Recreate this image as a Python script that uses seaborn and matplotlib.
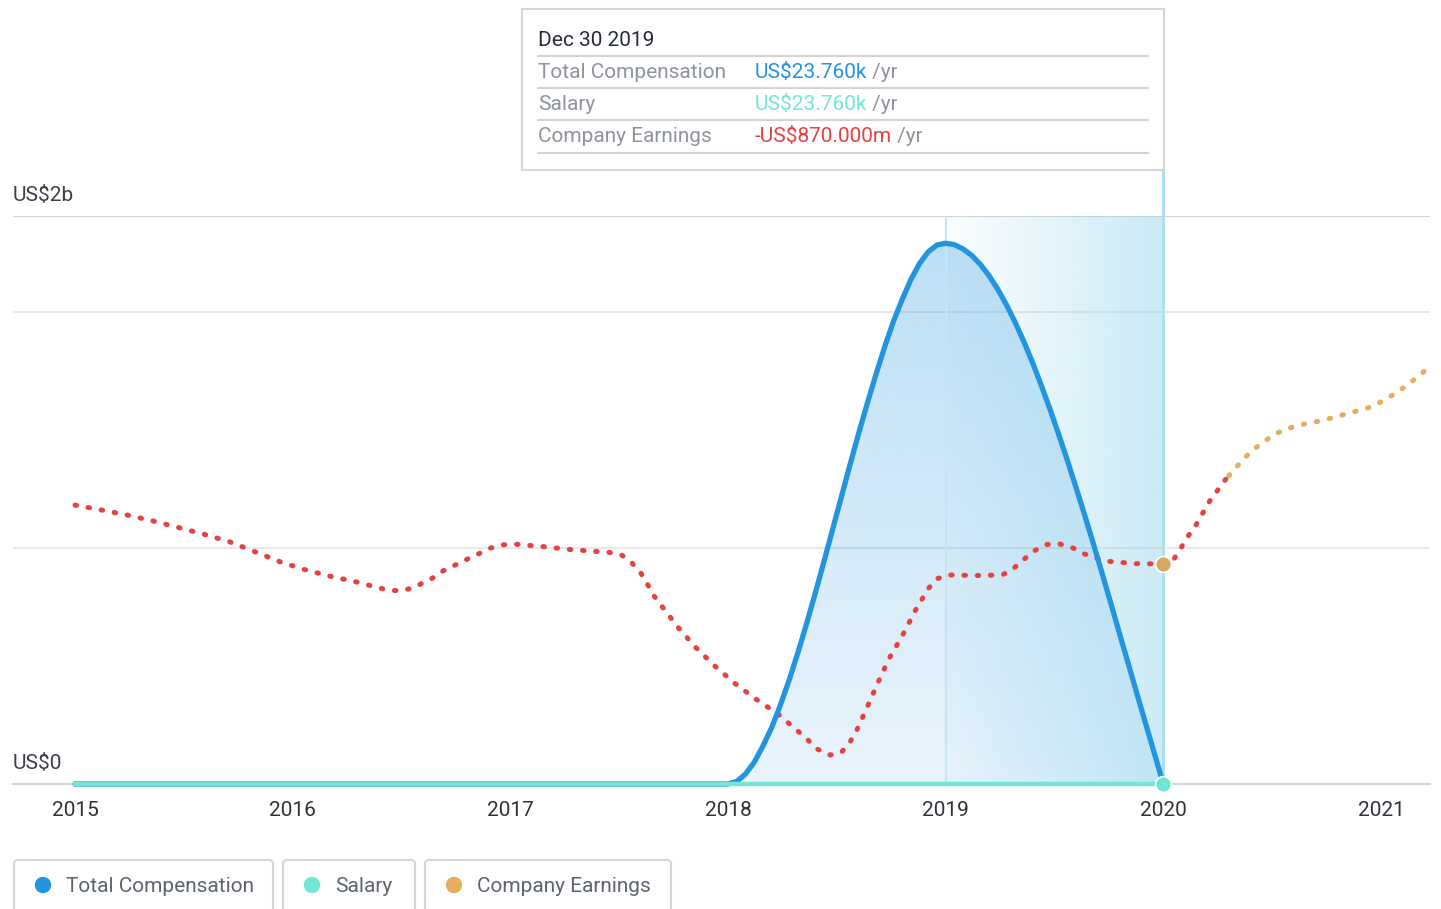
import numpy as np
import seaborn as sns
import matplotlib.pyplot as plt
from matplotlib.colors import to_rgb
from matplotlib.patches import Rectangle, FancyBboxPatch, Circle

# values as drawn on the chart scale (US$ b)
comp_years = [2015.0, 2018.0, 2018.04, 2018.08, 2018.12, 2018.16, 2018.20, 2018.24, 2018.28,
              2018.32, 2018.36, 2018.40, 2018.44, 2018.48, 2018.52, 2018.56, 2018.60, 2018.64,
              2018.68, 2018.72, 2018.76, 2018.80, 2018.84, 2018.88, 2018.92, 2018.96, 2019.0,
              2019.04, 2019.08, 2019.12, 2019.16, 2019.20, 2019.24, 2019.28, 2019.32, 2019.36,
              2019.40, 2019.44, 2019.48, 2019.52, 2019.56, 2019.60, 2019.64, 2019.68, 2019.72,
              2019.76, 2019.80, 2019.84, 2019.88, 2019.92, 2019.96, 2020.0]
comp_vals = [0, 0, 0.009, 0.035, 0.076, 0.133, 0.198, 0.277, 0.364,
             0.460, 0.562, 0.670, 0.781, 0.895, 1.009, 1.123, 1.234, 1.341,
             1.443, 1.540, 1.629, 1.706, 1.776, 1.833, 1.874, 1.898, 1.904,
             1.899, 1.884, 1.861, 1.829, 1.789, 1.741, 1.686, 1.624, 1.556,
             1.482, 1.402, 1.318, 1.229, 1.137, 1.041, 0.943, 0.842, 0.738,
             0.633, 0.526, 0.420, 0.314, 0.209, 0.104, 0]

salary_years = [2015.0, 2016.0, 2017.0, 2018.0, 2019.0, 2020.0]
salary_vals = [0, 0, 0, 0, 0, 0]

earn_years = [2015.0, 2015.12, 2015.24, 2015.36, 2015.47, 2015.59, 2015.71, 2015.82, 2015.94,
              2016.05, 2016.17, 2016.29, 2016.41, 2016.47, 2016.53, 2016.58, 2016.64, 2016.69,
              2016.80, 2016.91, 2016.965, 2017.03, 2017.15, 2017.27, 2017.39, 2017.45, 2017.51,
              2017.56, 2017.60, 2017.63, 2017.66, 2017.70, 2017.77, 2017.85, 2017.94, 2018.03,
              2018.13, 2018.23, 2018.32, 2018.37, 2018.41, 2018.47, 2018.52, 2018.56, 2018.59,
              2018.64, 2018.69, 2018.74, 2018.80, 2018.86, 2018.92, 2018.96, 2019.02, 2019.14,
              2019.26, 2019.31, 2019.40, 2019.46, 2019.52, 2019.58, 2019.63, 2019.70, 2019.75,
              2019.87, 2020.0, 2020.05, 2020.08, 2020.11, 2020.15, 2020.21, 2020.28, 2020.30]
earn_vals = [0.982, 0.965, 0.947, 0.926, 0.904, 0.880, 0.853, 0.820, 0.783,
             0.756, 0.732, 0.712, 0.688, 0.681, 0.686, 0.701, 0.724, 0.750,
             0.791, 0.831, 0.842, 0.844, 0.836, 0.826, 0.819, 0.816, 0.807,
             0.777, 0.742, 0.703, 0.662, 0.622, 0.552, 0.482, 0.415, 0.355,
             0.298, 0.246, 0.187, 0.153, 0.123, 0.102, 0.111, 0.147, 0.187,
             0.272, 0.359, 0.442, 0.521, 0.610, 0.688, 0.723, 0.736, 0.734,
             0.736, 0.758, 0.818, 0.843, 0.846, 0.833, 0.812, 0.793, 0.784,
             0.776, 0.775, 0.794, 0.830, 0.869, 0.912, 0.993, 1.067, 1.085]

fcst_years = [2020.30, 2020.36, 2020.40, 2020.45, 2020.50, 2020.55, 2020.61, 2020.67, 2020.73,
              2020.84, 2020.96, 2021.01, 2021.06, 2021.11, 2021.16, 2021.225]
fcst_vals = [1.085, 1.137, 1.169, 1.199, 1.226, 1.246, 1.261, 1.271, 1.280,
             1.303, 1.329, 1.350, 1.373, 1.399, 1.428, 1.47]

grid_vals = [0.831, 1.662, 2.0]
year_ticks = [2015, 2016, 2017, 2018, 2019, 2020, 2021]
highlight = [2019.0, 2020.0]

tip_date = "Dec 30 2019"
tip_labels = ["Total Compensation", "Salary", "Company Earnings"]
tip_values = ["US$23.760k", "US$23.760k", "-US$870.000m"]
legend_labels = ["Total Compensation", "Salary", "Company Earnings"]

BLUE = "#2394df"
CYAN = "#72e6d6"
RED = "#e64141"
ORANGE = "#e6ad60"
BAND = "#8fd3ec"

sns.set_theme(style="white")
plt.rcParams['font.family'] = ['Roboto', 'DejaVu Sans']

W, H = 1441, 909
fig = plt.figure(figsize=(W / 100, H / 100), dpi=100)
ax = fig.add_axes([13 / W, 1 - 784 / H, (1430 - 13) / W, (784 - 216) / H])

# grid
for v in grid_vals:
    ax.axhline(v, color="#d4d4d4" if v == 2.0 else "#e8e8e8", lw=1.5, zorder=0.5)

# compensation area with vertical gradient
poly = ax.fill_between(comp_years, comp_vals, 0, facecolor="none", edgecolor="none")
grad = np.zeros((256, 1, 4))
grad[..., :3] = to_rgb(BLUE)
grad[..., 3] = np.linspace(0.1, 0.3, 256)[:, None]
im = ax.imshow(grad, extent=[2018, 2020, 0, max(comp_vals)], origin="lower",
               aspect="auto", zorder=1, interpolation="bilinear")
im.set_clip_path(poly.get_paths()[0], transform=ax.transData)

# highlighted year band with horizontal gradient
band = np.zeros((1, 256, 4))
band[..., :3] = to_rgb(BAND)
band[..., 3] = np.linspace(0.04, 0.46, 256)[None, :]
ax.imshow(band, extent=[highlight[0], highlight[1], 0, 2], origin="lower",
          aspect="auto", zorder=2, interpolation="bilinear")
ax.plot([highlight[0]] * 2, [0, 2], color="#c4e6f2", lw=1.5, zorder=2)
ax.plot([highlight[1]] * 2, [0, 2.162], color="#a9def0", lw=2, zorder=2, clip_on=False)

# earnings (actual + forecast), dotted
dots = dict(lw=3.6, linestyle=(0, (0.3, 2.35)), dash_capstyle="round")
sns.lineplot(x=earn_years, y=earn_vals, color=RED, ax=ax, zorder=3, **dots)
sns.lineplot(x=fcst_years, y=fcst_vals, color=ORANGE, ax=ax, zorder=3, **dots)

# compensation and salary lines
sns.lineplot(x=comp_years, y=comp_vals, color=BLUE, lw=3.8, ax=ax, zorder=4, clip_on=False)
sns.lineplot(x=salary_years, y=salary_vals, color=CYAN, lw=3.2, ax=ax, zorder=5, clip_on=False)

i20 = earn_years.index(2020.0)
sns.scatterplot(x=[earn_years[i20]], y=[earn_vals[i20]], color="#d8a862", s=130,
                edgecolor="white", linewidth=1.2, ax=ax, zorder=6)
sns.scatterplot(x=[salary_years[-1]], y=[salary_vals[-1]], color=CYAN, s=130,
                edgecolor="white", linewidth=1.2, ax=ax, zorder=6, clip_on=False)

ax.set_xlim(2014.715, 2021.225)
ax.set_ylim(0, 2)
ax.set_xticks(year_ticks)
ax.set_xticklabels([str(y) for y in year_ticks])
ax.set_yticks([])
ax.set_xlabel("")
ax.set_ylabel("")
ax.tick_params(axis="x", length=5, width=1.5, color="#d4d4d4", labelsize=15,
               labelcolor="#2e3338", pad=7)
for s in ["top", "left", "right"]:
    ax.spines[s].set_visible(False)
ax.spines["bottom"].set_color("#d4d4d4")
ax.spines["bottom"].set_linewidth(1.5)
ax.patch.set_alpha(0)

for lab, v in [("US$2b", 2.0), ("US$0", 0.0)]:
    ax.annotate(lab, xy=(0, v), xycoords=("axes fraction", "data"), xytext=(0, 11),
                textcoords="offset points", va="baseline", ha="left", fontsize=15,
                color="#3b4048", annotation_clip=False)

# overlay in pixel coordinates for tooltip and legend
ov = fig.add_axes([0, 0, 1, 1], zorder=10)
ov.set_xlim(0, W)
ov.set_ylim(H, 0)
ov.axis("off")
ov.patch.set_alpha(0)

ov.add_patch(Rectangle((522, 9), 642, 161, facecolor="white", edgecolor="#d6d6d6", lw=1.5))
ov.text(538, 46.5, tip_date, fontsize=15, color="#262c35", va="baseline")
for y in [56, 88, 120, 153]:
    ov.plot([538, 1148], [y, y], color="#d2d2d2", lw=1.5)
renderer = fig.canvas.get_renderer()
val_colors = [BLUE, CYAN, RED]
for i, y in enumerate([78.5, 110.5, 142.5]):
    ov.text(538, y, tip_labels[i], fontsize=15, color="#8e949b", va="baseline")
    t = ov.text(755, y, tip_values[i], fontsize=15, color=val_colors[i], va="baseline")
    bb = t.get_window_extent(renderer)
    ov.text(bb.x1, y, " /yr", fontsize=15, color="#8e949b", va="baseline")

boxes = [(14, 259), (283, 132), (425, 246)]
leg_colors = [BLUE, CYAN, "#e6ad60"]
for (x0, w), lab, c in zip(boxes, legend_labels, leg_colors):
    ov.add_patch(FancyBboxPatch((x0, 860), w, 80, boxstyle="round,pad=0,rounding_size=4",
                                facecolor="white", edgecolor="#d6d6d6", lw=1.5))
    ov.add_patch(Circle((x0 + 29, 885), 7.5, color=c))
    ov.text(x0 + 52, 892, lab, fontsize=15, color="#5d646d", va="baseline")

fig.savefig("out.png", dpi=100)
